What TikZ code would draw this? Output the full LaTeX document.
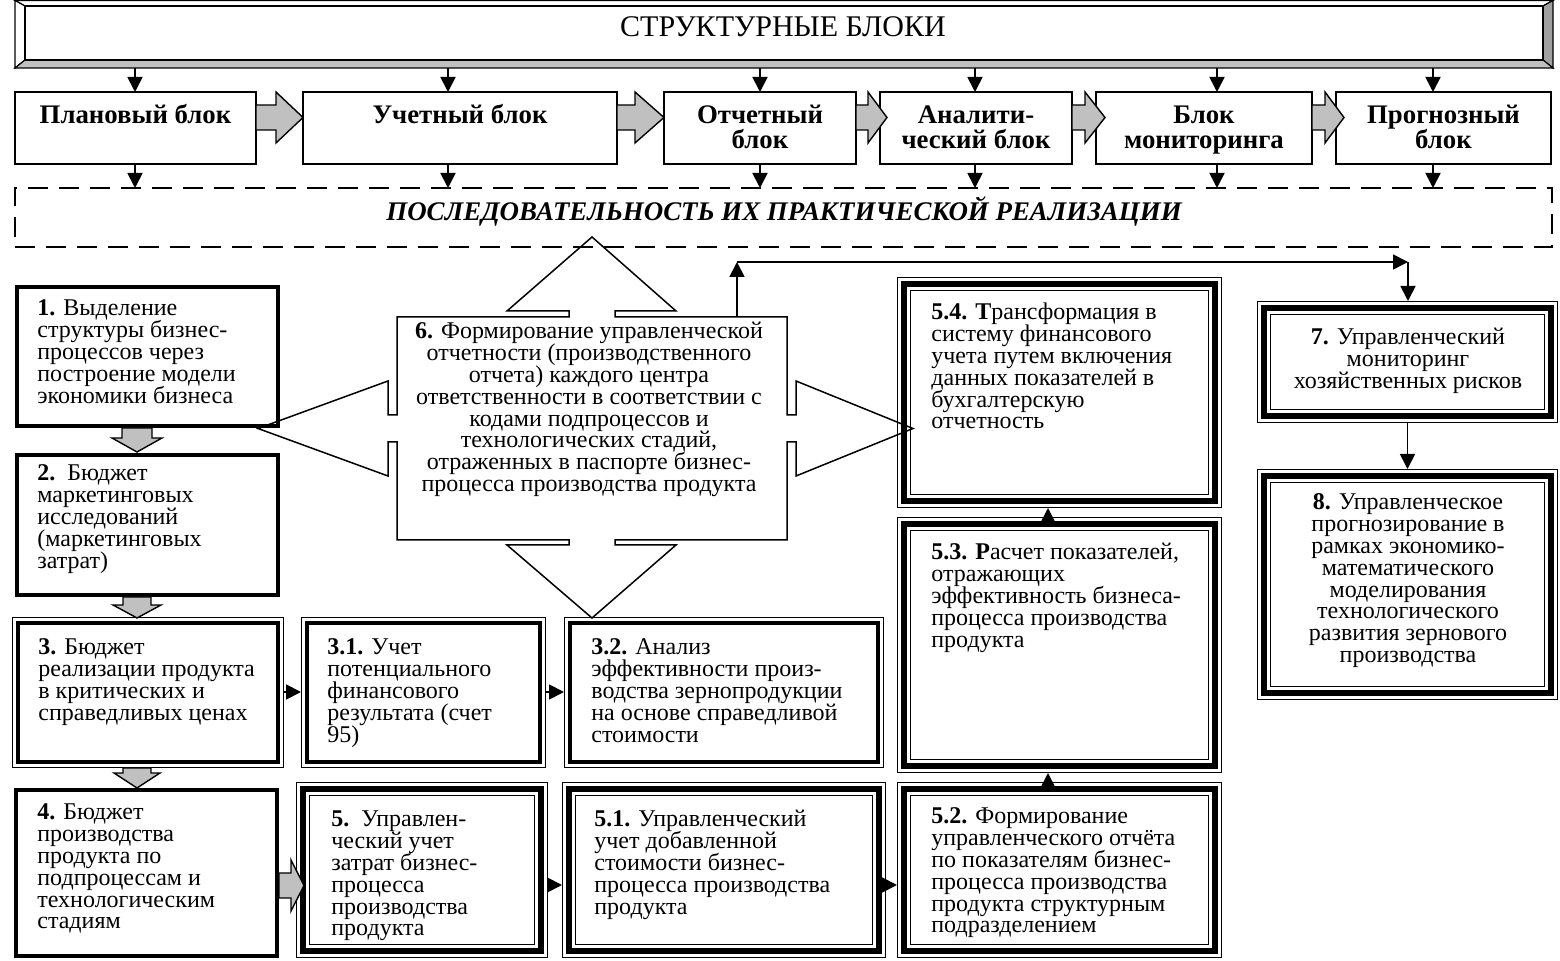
\documentclass[tikz,border=0pt]{standalone}
\usepackage{fontspec}
\setmainfont{Liberation Serif}
\usetikzlibrary{arrows.meta,calc}
\definecolor{gr}{HTML}{C0C0C0}
\definecolor{grd}{HTML}{A0A0A0}
\tikzset{
 arr/.style={-{Triangle[length=7.5pt,width=7.5pt]}, line width=0.9pt},
 gar/.style={draw, fill=gr, line width=0.7pt, line join=miter},
 blk/.style={draw, line width=0.75pt, anchor=north west, inner sep=0pt, outer sep=0pt},
 tbox/.style={draw, line width=2pt, anchor=north west, inner sep=0pt, outer sep=1pt},
 dbox/.style={draw, line width=1.85pt, anchor=north west, inner sep=0pt, outer sep=2.925pt},
 tri/.style={draw, line width=7pt, anchor=north west, inner sep=0pt, outer sep=3.5pt,
   postaction={draw=white, line width=5.7pt}, postaction={draw=black, line width=3pt}},
 txt/.style={inner sep=0pt, anchor=base west, font=\fontsize{12pt}{10.9pt}\selectfont},
 ctxt/.style={inner sep=0pt, anchor=base, font=\fontsize{12pt}{10.9pt}\selectfont},
 btxt/.style={inner sep=0pt, anchor=base, font=\fontsize{13.4pt}{12.5pt}\selectfont\bfseries},
}
\newcommand\LT[1]{\vtop{\lineskiplimit=-20pt\lineskip=0pt\halign{##\hfil\cr #1\crcr}}}
\newcommand\CT[1]{\vtop{\lineskiplimit=-20pt\lineskip=0pt\halign{\hfil##\hfil\cr #1\crcr}}}
\newcommand\mkblk[5]{\node[blk, minimum width={(#4-#2)*0.5pt}, minimum height={(#5-#3)*0.5pt}] (#1) at (#2,#3) {};}
\newcommand\mkthick[5]{\node[tbox, minimum width={(#4-#2-4)*0.5pt}, minimum height={(#5-#3-4)*0.5pt}] (#1) at (#2,#3) {};}
\newcommand\mktri[5]{\node[tri, minimum width={(#4-#2-14)*0.5pt}, minimum height={(#5-#3-14)*0.5pt}] (#1) at (#2,#3) {};}
\newcommand\mkdbl[5]{\node[dbox, minimum width={(#4-#2-11.7)*0.5pt}, minimum height={(#5-#3-11.7)*0.5pt}] (#1) at (#2,#3) {};
 \draw[line width=0.6pt] ({#2+0.6},{#3+0.6}) rectangle ({#4-0.6},{#5-0.6});}
\newcommand\hgar[8]{\draw[gar] (#1.east |- 0,#5) -- (#2,#5) -- (#2,#7) -- (#3,#4) -- (#2,#8) -- (#2,#6) -- (#1.east |- 0,#6) -- cycle;}
\newcommand\vgar[8]{\draw[gar] (#1.south -| #5,0) -- (#5,#2) -- (#7,#2) -- (#4,#3) -- (#8,#2) -- (#6,#2) -- (#1.south -| #6,0) -- cycle;}
\begin{document}
\begin{tikzpicture}[x=0.5pt,y=-0.5pt]
\useasboundingbox (0,0) rectangle (1560,961);
% banner
\fill[white] (15,0.5) rectangle (1553,68);
\filldraw[fill=white, line width=0.6pt] (15,0.5) -- (1553,0.5) -- (1543,6) -- (25,6) -- cycle;
\filldraw[fill=white, line width=0.6pt] (15,0.5) -- (25,6) -- (25,60) -- (15,68) -- cycle;
\filldraw[fill=grd, line width=0.6pt] (1553,0.5) -- (1553,68) -- (1543,60) -- (1543,6) -- cycle;
\filldraw[fill=gr, line width=0.6pt] (15,68) -- (1553,68) -- (1543,60) -- (25,60) -- cycle;
\draw[line width=0.6pt] (25,6) rectangle (1543,60);
\node[anchor=north west, inner sep=0pt, outer sep=0pt, minimum width={(1553-15)*0.5pt}, minimum height={67.5*0.5pt}] (banner) at (15,0.5) {};
\node[anchor=base, inner sep=0pt, font=\fontsize{15pt}{15pt}\selectfont] (bannertxt) at (783,37) {СТРУКТУРНЫЕ БЛОКИ};
% top blocks
\mkblk{b1}{15}{92}{256}{164}
\mkblk{b2}{303}{92}{617}{164}
\mkblk{b3}{664}{92}{856}{164}
\mkblk{b4}{880}{92}{1072}{164}
\mkblk{b5}{1096}{92}{1312}{164}
\mkblk{b6}{1336}{92}{1551}{164}
\node[btxt] (tb1) at (135.5,124) {Плановый блок};
\node[btxt] (tb2) at (460,124) {Учетный блок};
\node[btxt] (tb3) at (760,124) {\CT{Отчетный\cr блок}};
\node[btxt] (tb4) at (976,124) {\CT{Аналити-\cr ческий блок}};
\node[btxt] (tb5) at (1204,124) {\CT{Блок\cr мониторинга}};
\node[btxt] (tb6) at (1443.5,124) {\CT{Прогнозный\cr блок}};
\hgar{b1}{276}{303}{117.5}{105}{130}{92}{143}
\hgar{b2}{635}{664}{117.5}{105}{130}{92}{143}
\hgar{b3}{868}{887}{117.5}{105}{130}{92}{143}
\hgar{b4}{1085}{1105}{117.5}{105}{130}{92}{143}
\hgar{b5}{1325}{1344}{117.5}{105}{130}{92}{143}
% dashed box
\node[draw, line width=1.25pt, dash pattern=on 10pt off 5.5pt, anchor=north west, inner sep=0pt, outer sep=0pt,
  minimum width={(1552-15)*0.5pt}, minimum height={(247-188)*0.5pt}] (seq) at (15,188) {};
\node[anchor=base, inner sep=0pt, font=\fontsize{13.45pt}{14pt}\selectfont\bfseries\itshape] (seqtxt) at (784,221)
  {ПОСЛЕДОВАТЕЛЬНОСТЬ ИХ ПРАКТИЧЕСКОЙ РЕАЛИЗАЦИИ};
\foreach \x/\b in {135/b1, 448/b2, 760/b3, 975/b4, 1217/b5, 1433/b6} {
  \draw[arr] (banner.south -| \x,0) -- (\b.north -| \x,0);
  \draw[arr] (\b.south -| \x,0) -- (seq.north -| \x,0);
}
% boxes
\mkthick{box1}{15}{285}{280}{428}
\mkthick{box2}{15}{453}{280}{597}
\mkdbl{box3}{12}{617}{284}{768}
\mkdbl{box31}{301}{617}{546}{768}
\mkdbl{box32}{564}{617}{884}{768}
\mkthick{box4}{14}{788}{279}{958}
\mktri{box5}{296}{782}{548}{958}
\mktri{box51}{562}{782}{886}{958}
\mktri{box52}{897}{782}{1222}{958}
\mktri{box53}{897}{517}{1222}{773}
\mktri{box54}{897}{277}{1222}{508}
\mktri{box7}{1257}{301}{1558}{423}
\mktri{box8}{1257}{469}{1558}{700}
% block 6 (four-way arrow callout), drawn over neighbouring borders
\draw[line width=0.75pt, line join=miter] (397,317) -- (569,317) -- (569,311) -- (507,311) -- (592,237) -- (676,311) -- (615,311) -- (615,317)
 -- (787,317) -- (787,415) -- (796,415) -- (796,381) -- (913,428.5) -- (796,476) -- (796,442) -- (787,442)
 -- (787,540) -- (615,540) -- (615,545) -- (676,545) -- (592,618) -- (507,545) -- (569,545) -- (569,540)
 -- (397,540) -- (397,442) -- (388,442) -- (388,476) -- (258,428.5) -- (388,381) -- (388,415) -- (397,415) -- cycle;
\node[anchor=north west, inner sep=0pt, outer sep=0pt, minimum width={390*0.5pt}, minimum height={223*0.5pt}] (n6) at (397,317) {};
\node[ctxt] (t6) at (589,339) {\CT{\textbf{6.} Формирование управленческой\cr отчетности (производственного\cr отчета) каждого центра\cr ответственности в соответствии с\cr кодами подпроцессов и\cr технологических стадий,\cr отраженных в паспорте бизнес-\cr процесса производства продукта}};
% texts
\node[txt] (t1) at (37,316) {\LT{\textbf{1.} Выделение\cr структуры бизнес-\cr процессов через\cr построение модели\cr экономики бизнеса}};
\node[txt] (t2) at (37,481) {\LT{\textbf{2.}\ \ Бюджет\cr маркетинговых\cr исследований\cr (маркетинговых\cr затрат)}};
\node[txt] (t3) at (38,655) {\LT{\textbf{3.} Бюджет\cr реализации продукта\cr в критических и\cr справедливых ценах}};
\node[txt] (t31) at (327,655) {\LT{\textbf{3.1.} Учет\cr потенциального\cr финансового\cr результата (счет\cr 95)}};
\node[txt] (t32) at (591,655) {\LT{\textbf{3.2.} Анализ\cr эффективности произ-\cr водства зернопродукции\cr на основе справедливой\cr стоимости}};
\node[txt] (t4) at (37,820) {\LT{\textbf{4.} Бюджет\cr производства\cr продукта по\cr подпроцессам и\cr технологическим\cr стадиям}};
\node[txt] (t5) at (331,827) {\LT{\textbf{5.}\ \ Управлен-\cr ческий учет\cr затрат бизнес-\cr процесса\cr производства\cr продукта}};
\node[txt] (t51) at (594,827) {\LT{\textbf{5.1.} Управленческий\cr учет добавленной\cr стоимости бизнес-\cr процесса производства\cr продукта}};
\node[txt] (t52) at (931,824) {\LT{\textbf{5.2.} Формирование\cr управленческого отчёта\cr по показателям бизнес-\cr процесса производства\cr продукта структурным\cr подразделением}};
\node[txt] (t53) at (931,560) {\LT{\textbf{5.3. Р}асчет показателей,\cr отражающих\cr эффективность бизнеса-\cr процесса производства\cr продукта}};
\node[txt] (t54) at (931,320) {\LT{\textbf{5.4. Т}рансформация в\cr систему финансового\cr учета путем включения\cr данных показателей в\cr бухгалтерскую\cr отчетность}};
\node[ctxt] (t7) at (1408,345) {\CT{\textbf{7.} Управленческий\cr мониторинг\cr хозяйственных рисков}};
\node[ctxt] (t8) at (1408,510) {\CT{\textbf{8.} Управленческое\cr прогнозирование в\cr рамках экономико-\cr математического\cr моделирования\cr технологического\cr развития зернового\cr производства}};
% gray arrows in left column
\vgar{box1}{438}{452}{137}{122}{152}{112}{162}
\vgar{box2}{605}{618}{137}{123}{151}{113}{161}
\vgar{box3}{773}{788}{137}{123}{151}{114}{160}
\hgar{box4}{291}{304}{885.5}{873}{898}{860}{911}
% black connectors
\draw[arr] (box3.east |- 0,692) -- (box31.west |- 0,692);
\draw[arr] (box31.east |- 0,692) -- (box32.west |- 0,692);
\draw[arr] (box5.east |- 0,885) -- (box51.west |- 0,885);
\draw[arr] (box51.east |- 0,885) -- (box52.west |- 0,885);
\draw[arr] (box52.north -| 1048,0) -- (box53.south -| 1048,0);
\draw[arr] (box53.north -| 1048,0) -- (box54.south -| 1048,0);
\coordinate (fb1) at (737,262);
\coordinate (fb2) at (1408,262);
\draw[arr] (n6.north -| fb1) -- (fb1);
\draw[arr] (fb1) -- (fb2);
\draw[arr] (fb2) -- (fb2 |- box7.north);
\draw[arr] (box7.south) -- (box8.north);
\end{tikzpicture}
\end{document}
